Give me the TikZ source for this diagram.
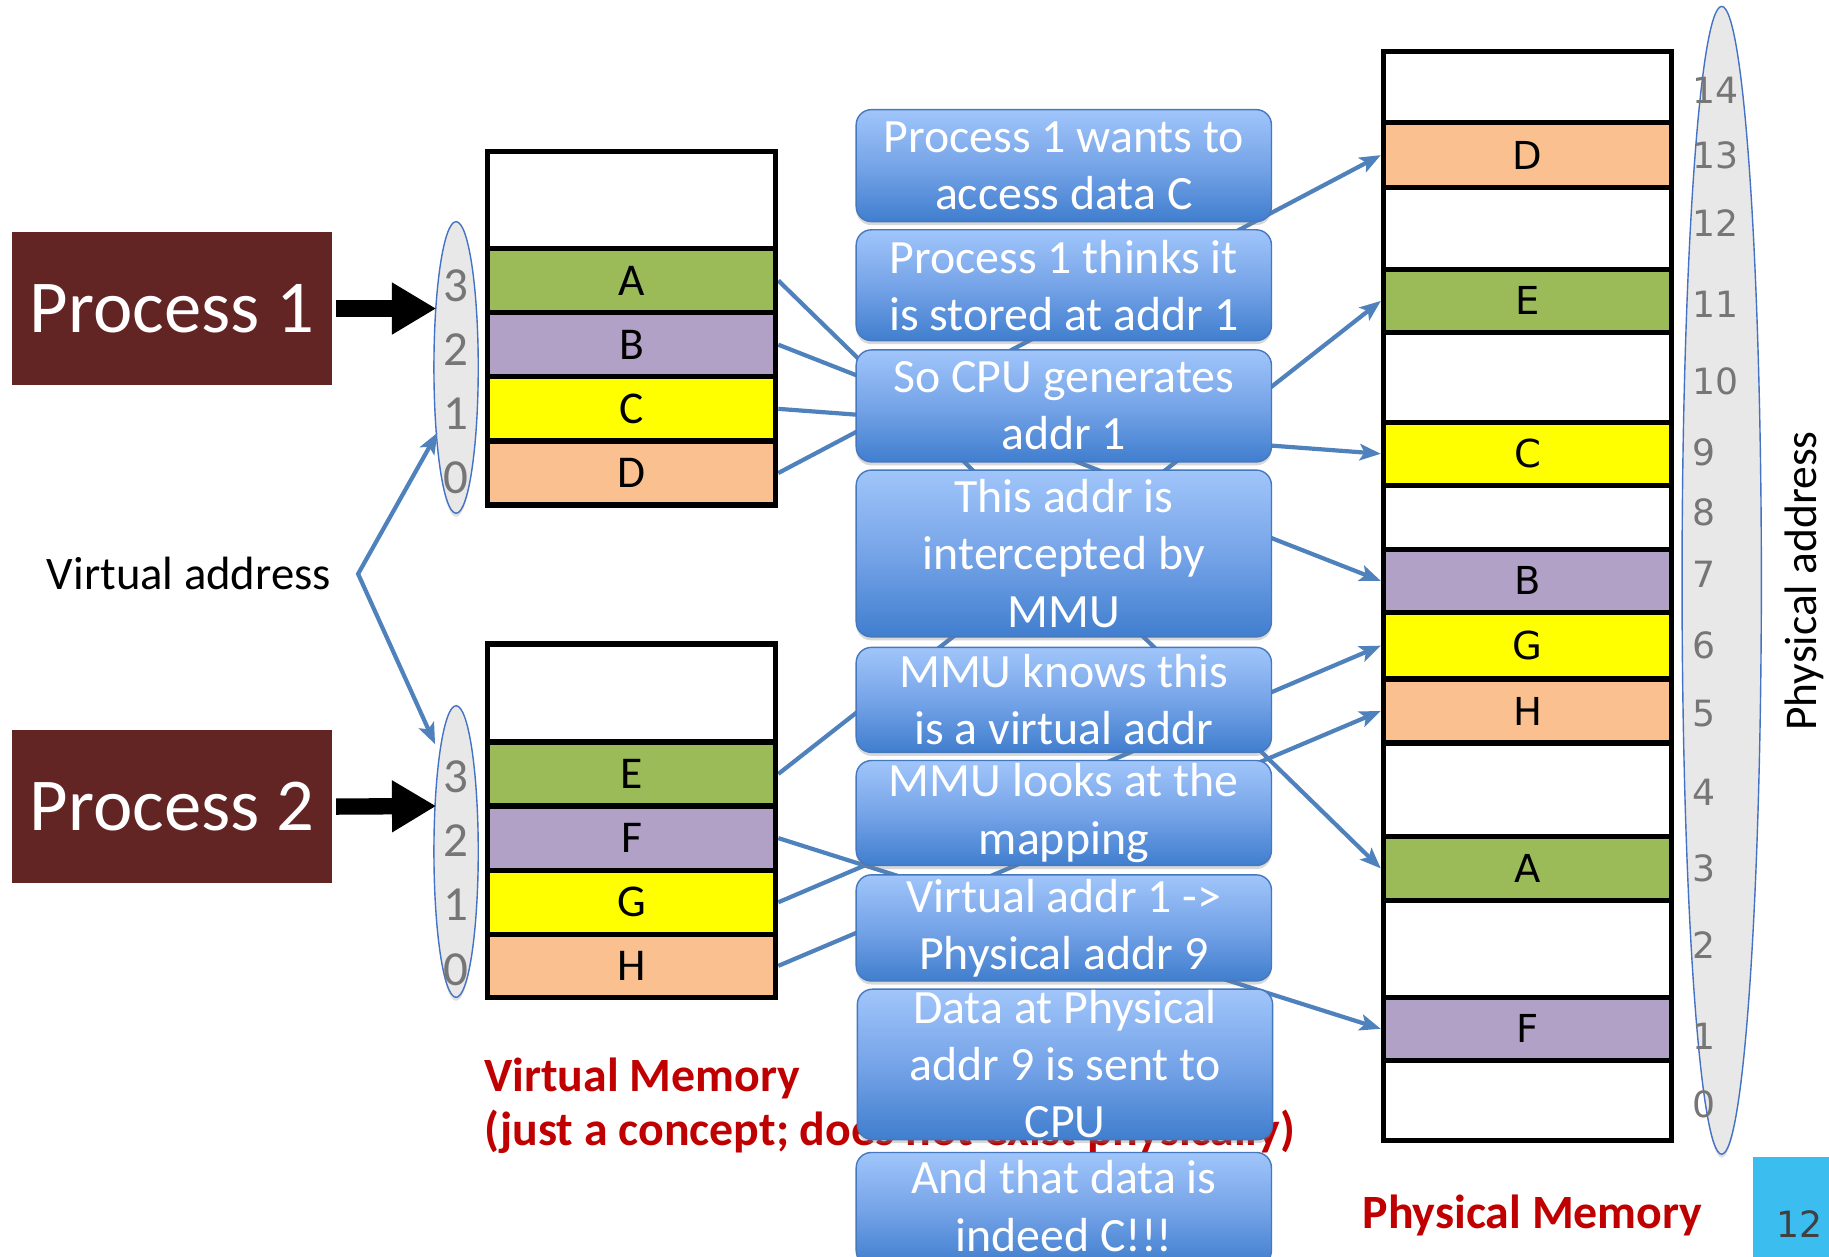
\documentclass[tikz,border=0pt]{standalone}
\usepackage{fontspec}
\setmainfont{Carlito}
\newfontfamily\verd{DejaVu Sans}
\usetikzlibrary{arrows.meta,shapes.geometric,shadows}

\definecolor{procred}{RGB}{99,37,35}
\definecolor{cellgreen}{RGB}{155,187,89}
\definecolor{cellpurple}{RGB}{178,161,199}
\definecolor{cellyellow}{RGB}{255,255,0}
\definecolor{cellorange}{RGB}{250,192,144}
\definecolor{linkblue}{RGB}{79,129,189}
\definecolor{ovalgray}{RGB}{232,232,232}
\definecolor{ovalblue}{RGB}{68,114,196}
\definecolor{digitgray}{RGB}{118,118,118}
\definecolor{titlered}{RGB}{192,0,0}
\definecolor{boxtop}{RGB}{160,197,250}
\definecolor{boxmid}{RGB}{118,164,232}
\definecolor{boxbot}{RGB}{64,126,206}
\definecolor{boxedge}{RGB}{70,120,190}
\definecolor{tabcyan}{RGB}{59,189,240}

\newcommand\fsz[2]{\fontsize{#1}{#2}\selectfont}

\pgfdeclarelayer{back}
\pgfsetlayers{back,main}

\begin{document}
\begin{tikzpicture}[x=1pt,y=-1pt,
  cell/.style={draw=black, line width=4.5pt, minimum width=247pt, inner sep=0pt, font=\fsz{39}{47}},
  pcell/.style={cell, font=\verd\fsz{33}{38}},
  procbox/.style={fill=procred, minimum width=275pt, minimum height=131pt, inner sep=0pt, text=white, font=\fsz{64}{70}},
  bigarrow/.style={line width=14pt, -{Triangle[length=38pt,width=42pt]}, shorten <=3pt},
  oval/.style={ellipse, draw=ovalblue, line width=1.2pt, fill=ovalgray, inner sep=0pt,
    drop shadow={shadow xshift=0pt, shadow yshift=-3pt, opacity=0.25}},
  vdigit/.style={text=digitgray, font=\fsz{42}{50}, inner sep=0pt},
  pdigit/.style={text=digitgray, font=\verd\fsz{31}{36}, inner sep=0pt, anchor=west},
  linkarrow/.style={draw=linkblue, line width=3.6pt},
  maplink/.style={linkarrow, -{Stealth[length=18pt,width=14pt,inset=4pt]}},
  redtext/.style={text=titlered, font=\bfseries\fsz{41}{46}, inner sep=0pt, anchor=base west},
  callout/.style={draw=boxedge, line width=1.2pt, rounded corners=13pt,
    top color=boxtop, bottom color=boxbot, middle color=boxmid,
    minimum width=356pt, inner sep=0pt,
    drop shadow={shadow xshift=0pt, shadow yshift=-3pt, opacity=0.3}},
  calltext/.style={text=white, align=center, font=\fsz{41}{49}, inner sep=0pt}
]
\useasboundingbox (0,0) rectangle (1568,1077);
\begin{pgfonlayer}{back}
  \fill[white] (0,0) rectangle (1568,1077);
\end{pgfonlayer}

% captions under the memories
\node[redtext] (vmt) at (415,936) {Virtual Memory};
\node[redtext] (vmc) at (415,982) {(just a concept; does not exist physically)};
\node[redtext] (pmt) at (1168,1053) {Physical Memory};

% processes
\node[procbox] (p1) at (147.5,264.5) {Process 1};
\node[procbox] (p2) at (147.5,691.5) {Process 2};

% virtual memory of process 1
\node[cell, fill=white, minimum height=83pt] (v1e) at (541.5,171.5) {};
\node[cell, fill=cellgreen, minimum height=55pt] (vA) at (541.5,240.5) {A};
\node[cell, fill=cellpurple, minimum height=55pt] (vB) at (541.5,295.5) {B};
\node[cell, fill=cellyellow, minimum height=55pt] (vC) at (541.5,350.5) {C};
\node[cell, fill=cellorange, minimum height=55pt] (vD) at (541.5,405.5) {D};

% virtual memory of process 2
\node[cell, fill=white, minimum height=84pt] (v2e) at (541.5,594) {};
\node[cell, fill=cellgreen, minimum height=55pt] (vE) at (541.5,663.5) {E};
\node[cell, fill=cellpurple, minimum height=55pt] (vF) at (541.5,718.5) {F};
\node[cell, fill=cellyellow, minimum height=55pt] (vG) at (541.5,773.5) {G};
\node[cell, fill=cellorange, minimum height=54pt] (vH) at (541.5,828) {H};

% physical memory
\node[pcell, fill=white, minimum height=61pt] (p14) at (1309.5,74.5) {};
\node[pcell, fill=cellorange, minimum height=56pt] (pD) at (1309.5,133) {D};
\node[pcell, fill=white, minimum height=70pt] (p12) at (1309.5,196) {};
\node[pcell, fill=cellgreen, minimum height=54pt] (pE) at (1309.5,258) {E};
\node[pcell, fill=white, minimum height=77pt] (p10) at (1309.5,323.5) {};
\node[pcell, fill=cellyellow, minimum height=54pt] (pC) at (1309.5,389) {C};
\node[pcell, fill=white, minimum height=55pt] (p8) at (1309.5,443.5) {};
\node[pcell, fill=cellpurple, minimum height=54pt] (pB) at (1309.5,498) {B};
\node[pcell, fill=cellyellow, minimum height=57pt] (pG) at (1309.5,553.5) {G};
\node[pcell, fill=cellorange, minimum height=55pt] (pH) at (1309.5,609.5) {H};
\node[pcell, fill=white, minimum height=80pt] (p4) at (1309.5,677) {};
\node[pcell, fill=cellgreen, minimum height=55pt] (pA) at (1309.5,744.5) {A};
\node[pcell, fill=white, minimum height=83pt] (p2r) at (1309.5,813.5) {};
\node[pcell, fill=cellpurple, minimum height=54pt] (pF) at (1309.5,882) {F};
\node[pcell, fill=white, minimum height=69pt] (p0) at (1309.5,943.5) {};

% address ovals
\node[oval, minimum width=38pt, minimum height=250pt] (o1) at (391,315) {};
\node[oval, minimum width=38pt, minimum height=250pt] (o2) at (391,730) {};
\node[oval, minimum width=68pt, minimum height=984pt] (o3) at (1476,497.5) {};

\node[vdigit] (o1n3) at (391,245) {3};
\node[vdigit] (o1n2) at (391,300) {2};
\node[vdigit] (o1n1) at (391,355) {1};
\node[vdigit] (o1n0) at (391,410) {0};
\node[vdigit] (o2n3) at (391,666) {3};
\node[vdigit] (o2n2) at (391,721) {2};
\node[vdigit] (o2n1) at (391,776) {1};
\node[vdigit] (o2n0) at (391,831) {0};

\foreach \n/\y in {14/77,13/133,12/191,11/261,10/327,9/388,8/439,7/492,6/553,5/612,4/679,3/744,2/810,1/888,0/947}
  \node[pdigit] (pn\n) at (1451,\y) {\n};

\node[rotate=90, font=\fsz{39}{46}, inner sep=0pt] (pat) at (1547,498) {Physical address};

% slide number tab
\node[fill=tabcyan, minimum width=65pt, minimum height=85pt, inner sep=0pt, anchor=north west] (tab) at (1503,992) {};
\node[font=\verd\fsz{31}{36}, text=black!75, inner sep=0pt] (pg) at (1543,1049) {12};

% process arrows
\coordinate (a1) at (374,264.5);
\coordinate (a2) at (374,691);
\draw[bigarrow] (p1.east) -- (a1);
\draw[bigarrow] (p2.east) -- (a2);

% virtual address pointers
\node[font=\fsz{40}{48}, inner sep=0pt] (va) at (162,492) {Virtual address};
\coordinate (vaj) at (307,492);
\coordinate (t1) at (375,371);
\coordinate (t2) at (373,638);
\draw[linkarrow, {Stealth[length=18pt,width=14pt,inset=4pt]}-{Stealth[length=18pt,width=14pt,inset=4pt]}]
  (t1) -- (vaj) -- (t2);

% mapping from virtual to physical pages
\begin{pgfonlayer}{back}
  \foreach \s/\t in {vA/pA, vB/pB, vC/pC, vD/pD, vE/pE, vF/pF, vG/pG, vH/pH}
    \draw[maplink] (\s.east) -- (\t.west);
\end{pgfonlayer}

% step-by-step callouts
\node[callout, minimum height=96pt] (c1) at (912,142) {};
\node[calltext] (c1t) at (c1.center) {Process 1 wants to\\access data C};
\node[callout, minimum height=95pt] (c2) at (912,244.5) {};
\node[calltext] (c2t) at (c2.center) {Process 1 thinks it\\is stored at addr 1};
\node[callout, minimum height=96pt] (c3) at (912,348) {};
\node[calltext] (c3t) at (c3.center) {So CPU generates\\addr 1};
\node[callout, minimum height=143pt] (c4) at (912,474.5) {};
\node[calltext] (c4t) at (c4.center) {This addr is\\intercepted by\\MMU};
\node[callout, minimum height=90pt] (c5) at (912,600) {};
\node[calltext] (c5t) at (c5.center) {MMU knows this\\is a virtual addr};
\node[callout, minimum height=90pt] (c6) at (912,697) {};
\node[calltext] (c6t) at (c6.center) {MMU looks at the\\mapping};
\node[callout, minimum height=91pt] (c7) at (912,795.5) {};
\node[calltext] (c7t) at (c7.center) {Virtual addr 1 ->\\Physical addr 9};
\node[callout, minimum height=129pt] (c8) at (913,912.5) {};
\node[calltext] (c8t) at (c8.center) {Data at Physical\\addr 9 is sent to\\CPU};
\node[callout, minimum height=97pt] (c9) at (912,1036.5) {};
\node[calltext] (c9t) at (912,1034) {And that data is\\indeed C!!!};
\end{tikzpicture}
\end{document}
